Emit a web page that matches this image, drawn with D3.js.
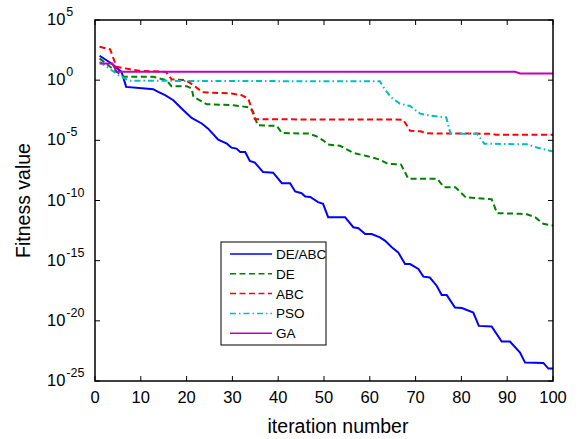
<!DOCTYPE html>
<html>
<head>
<meta charset="utf-8">
<script src="https://cdn.jsdelivr.net/npm/d3@7"></script>
<style>
  body { margin: 0; background: #fff; }
  text { font-family: "Liberation Sans", Arial, sans-serif; fill: #000; }
</style>
</head>
<body>
<div id="chart"></div>
<script>
// Convergence curves: iteration and log10(fitness)
const deabcIter = [1, 3.6, 5.8, 6.8, 10.9, 12.7, 13.8, 15.3, 17.1, 19.3, 21.1, 23.3, 24.7, 26.9, 28.8, 29.8, 30.9, 31.7, 32.8, 33.8, 34.9, 36.7, 38.9, 40.8, 42.6, 43.7, 45.1, 45.9, 47, 48.7, 49.8, 50.9, 54.6, 56.4, 57.5, 59, 60.4, 62.2, 63.3, 64.8, 66.2, 67.7, 68.8, 70.6, 71.7, 73.1, 74.6, 75.7, 76.8, 78.6, 80.1, 82.6, 83.8, 86.6, 88.8, 90.6, 92.8, 93.9, 97.9, 99, 100];
const deabcLog = [2.03, 1.39, 0.69, -0.56, -0.69, -0.75, -0.97, -1.25, -1.67, -2.5, -3.14, -3.6, -4.03, -4.94, -5.28, -5.61, -5.69, -5.97, -5.97, -6.72, -6.85, -7.64, -7.69, -8.56, -8.56, -9.25, -9.39, -9.67, -9.7, -10.14, -10.28, -11.39, -11.39, -12.22, -12.3, -12.78, -12.78, -13.06, -13.33, -13.89, -14.31, -15.28, -15.28, -15.69, -16.33, -16.4, -17.08, -17.86, -17.86, -18.89, -18.94, -19.31, -20.42, -20.47, -21.72, -21.72, -22.64, -23.47, -23.5, -23.97, -23.97];

const deIter = [1, 3.3, 6.2, 12.7, 15.6, 16.7, 20, 21.1, 21.5, 24.4, 30.2, 33.6, 34.5, 35.5, 39.7, 40.8, 46.6, 48.4, 49.8, 50.9, 53.5, 56.4, 59.3, 62.2, 64, 66.8, 68.4, 74.7, 76.2, 78.7, 80.9, 86.6, 87.8, 92.8, 94.3, 96.1, 97.9, 100];
const deLog = [1.81, 1.11, 0.28, 0.28, 0, -0.5, -0.5, -0.69, -1.39, -2.0, -2.08, -2.25, -2.6, -3.75, -3.8, -4.39, -4.44, -4.67, -5.0, -5.35, -5.45, -6.05, -6.3, -6.6, -6.97, -7.0, -8.19, -8.19, -8.89, -8.9, -9.72, -9.9, -11.05, -11.1, -11.15, -11.39, -11.94, -12.08];

const abcIter = [1, 3.3, 4.7, 7.4, 9.6, 15.5, 16.7, 19.8, 21.5, 23.5, 29.8, 32, 33.5, 34.9, 67.3, 68.8, 71, 72.6, 86.6, 87.5, 100];
const abcLog = [2.78, 2.56, 1.11, 0.92, 0.78, 0.69, 0.08, 0, -0.42, -1.0, -1.11, -1.25, -1.55, -3.25, -3.28, -4.2, -4.25, -4.42, -4.45, -4.53, -4.53];

const psoIter = [1, 3, 5.1, 7.5, 62.2, 63.4, 64.8, 66.6, 68.8, 71, 72.8, 76.7, 77.6, 83.4, 85, 94.3, 96.5, 100];
const psoLog = [1.53, 1.0, 0.42, -0.05, -0.1, -0.83, -1.47, -1.96, -2.15, -2.78, -2.92, -3.1, -4.44, -4.45, -5.28, -5.33, -5.6, -5.92];

const gaIter = [1, 3.8, 4.7, 91.7, 92.8, 100];
const gaLog = [1.39, 1.39, 0.7, 0.7, 0.55, 0.55];

const seriesNames = ["DE/ABC", "DE", "ABC", "PSO", "GA"];
const xTicks = [0, 10, 20, 30, 40, 50, 60, 70, 80, 90, 100];
const yTickExp = [5, 0, -5, -10, -15, -20, -25];

const width = 581, height = 439;
const svg = d3.select("#chart").append("svg")
  .attr("width", width)
  .attr("height", height);

const x = d3.scaleLinear().domain([0, 100]).range([95, 553]);
const y = d3.scaleLog().domain([1e-25, 1e5]).range([381, 20]);

const series = [
  { name: seriesNames[0], it: deabcIter, lg: deabcLog, color: "#0000ff", dash: null },
  { name: seriesNames[1], it: deIter, lg: deLog, color: "#008000", dash: "6,3.5" },
  { name: seriesNames[2], it: abcIter, lg: abcLog, color: "#ff0000", dash: "6,3.5" },
  { name: seriesNames[3], it: psoIter, lg: psoLog, color: "#00bfbf", dash: "6,3,1.5,3" },
  { name: seriesNames[4], it: gaIter, lg: gaLog, color: "#bf00bf", dash: null }
];

svg.append("clipPath").attr("id", "clip")
  .append("rect")
  .attr("x", x(0)).attr("y", y(1e5))
  .attr("width", x(100) - x(0)).attr("height", y(1e-25) - y(1e5));

const line = d3.line()
  .x(d => x(d[0]))
  .y(d => y(Math.pow(10, d[1])));

// draw the curves
series.forEach(s => {
  const pts = s.it.map((v, i) => [v, s.lg[i]]);
  svg.append("path")
    .datum(pts)
    .attr("clip-path", "url(#clip)")
    .attr("fill", "none")
    .attr("stroke", s.color)
    .attr("stroke-width", 2)
    .attr("stroke-dasharray", s.dash)
    .attr("d", line);
});

// axes box with inward ticks
const axisG = svg.append("g");
axisG.append("rect")
  .attr("x", x(0)).attr("y", y(1e5))
  .attr("width", x(100) - x(0)).attr("height", y(1e-25) - y(1e5))
  .attr("fill", "none").attr("stroke", "#000").attr("stroke-width", 1.5);

xTicks.forEach(t => {
  axisG.append("line")
    .attr("x1", x(t)).attr("x2", x(t))
    .attr("y1", y(1e-25)).attr("y2", y(1e-25) - 5)
    .attr("stroke", "#000").attr("stroke-width", 1);
  axisG.append("line")
    .attr("x1", x(t)).attr("x2", x(t))
    .attr("y1", y(1e5)).attr("y2", y(1e5) + 5)
    .attr("stroke", "#000").attr("stroke-width", 1);
  axisG.append("text")
    .attr("x", x(t)).attr("y", 403)
    .attr("text-anchor", "middle")
    .style("font-size", "16.5px")
    .text(t);
});

yTickExp.forEach(e => {
  const yy = y(Math.pow(10, e));
  axisG.append("line")
    .attr("x1", x(0)).attr("x2", x(0) + 5)
    .attr("y1", yy).attr("y2", yy)
    .attr("stroke", "#000").attr("stroke-width", 1);
  axisG.append("line")
    .attr("x1", x(100)).attr("x2", x(100) - 5)
    .attr("y1", yy).attr("y2", yy)
    .attr("stroke", "#000").attr("stroke-width", 1);
  const t = axisG.append("text")
    .attr("x", 47).attr("y", yy + 5)
    .style("font-size", "16.5px");
  t.append("tspan").text("10");
  t.append("tspan").attr("dx", 1).attr("dy", -9).style("font-size", "12.5px").text(e);
});

// axis titles
svg.append("text")
  .attr("x", 338).attr("y", 433)
  .attr("text-anchor", "middle")
  .style("font-size", "19.5px")
  .text("iteration number");

svg.append("text")
  .attr("transform", "translate(30," + ((y(1e5) + y(1e-25)) / 2) + ") rotate(-90)")
  .attr("text-anchor", "middle")
  .style("font-size", "19.5px")
  .text("Fitness value");

// legend
const legend = svg.append("g");
legend.append("rect")
  .attr("x", 221).attr("y", 242)
  .attr("width", 105).attr("height", 103)
  .attr("fill", "#fff").attr("stroke", "#000").attr("stroke-width", 1);

series.forEach((s, i) => {
  const ly = 254 + i * 19.8;
  legend.append("line")
    .attr("x1", 230).attr("x2", 272)
    .attr("y1", ly).attr("y2", ly)
    .attr("stroke", s.color)
    .attr("stroke-width", 1.5)
    .attr("stroke-dasharray", s.dash);
  legend.append("text")
    .attr("x", 276).attr("y", ly + 5)
    .style("font-size", "13.5px")
    .text(s.name);
});
</script>
</body>
</html>
